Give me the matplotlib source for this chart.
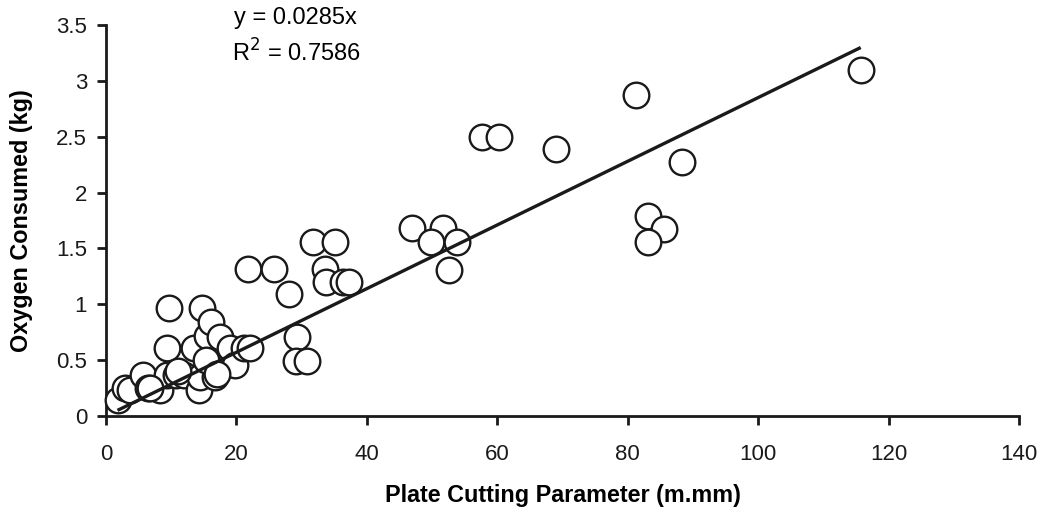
import matplotlib
matplotlib.use("Agg")
import matplotlib.pyplot as plt
import numpy as np

plt.rcParams['font.family'] = ['Liberation Sans', 'DejaVu Sans']

# Plate cutting parameter (m.mm) and oxygen consumed (kg)
x_vals = [1.9, 2.9, 3.7, 5.7, 6.4, 8.3, 9.3, 9.3, 9.7,
          10.8, 12.0, 13.5, 14.2, 14.4, 14.8, 15.5, 16.1, 16.7, 17.5,
          18.5, 19.0, 19.8, 21.2, 22.1, 21.8, 25.7, 28.1, 29.3, 29.2,
          30.8, 31.8, 35.1, 33.6, 33.7, 36.4, 37.3, 46.9, 51.7, 49.9,
          53.9, 52.6, 57.6, 60.2, 69.0, 81.3, 88.3, 83.1, 85.6, 83.1,
          115.7, 6.8, 11.0, 15.3, 17.0]
y_vals = [0.14, 0.25, 0.23, 0.37, 0.25, 0.23, 0.37, 0.61, 0.97,
          0.37, 0.37, 0.61, 0.23, 0.35, 0.97, 0.72, 0.84, 0.35, 0.71,
          0.50, 0.61, 0.46, 0.61, 0.61, 1.32, 1.32, 1.09, 0.71, 0.49,
          0.49, 1.56, 1.56, 1.32, 1.20, 1.20, 1.20, 1.68, 1.68, 1.56,
          1.56, 1.31, 2.50, 2.50, 2.39, 2.87, 2.27, 1.79, 1.67, 1.56,
          3.10, 0.25, 0.40, 0.50, 0.38]

slope = 0.0285
r2 = 0.7586
fit_x = [2.0, 115.5]

xticks = [0, 20, 40, 60, 80, 100, 120, 140]
yticks = [0, 0.5, 1, 1.5, 2, 2.5, 3, 3.5]
ytick_labels = ['0', '0.5', '1', '1.5', '2', '2.5', '3', '3.5']

fig = plt.figure(figsize=(10.43, 5.12), dpi=100)
ax = fig.add_axes([0.1016, 0.1875, 0.8754, 0.7637])

ax.scatter(x_vals, y_vals, s=340, facecolor='white', edgecolor='#1a1a1a',
           linewidths=1.7, zorder=3, clip_on=False)
fx = np.array(fit_x)
ax.plot(fx, slope * fx, color='#1a1a1a', linewidth=2.4, zorder=4)

ax.set_xlim(0, 140)
ax.set_ylim(0, 3.5)
ax.set_xticks(xticks)
ax.set_yticks(yticks)
ax.set_yticklabels(ytick_labels)
for s in ['top', 'right']:
    ax.spines[s].set_visible(False)
for s in ['left', 'bottom']:
    ax.spines[s].set_linewidth(2.0)
    ax.spines[s].set_color('#1a1a1a')
ax.tick_params(direction='out', length=6.5, width=2.0, labelsize=16, colors='#1a1a1a')
ax.tick_params(axis='x', pad=14)
ax.tick_params(axis='y', pad=7)

ax.set_xlabel('Plate Cutting Parameter (m.mm)', fontsize=16.8, fontweight='bold', labelpad=13)
ax.set_ylabel('Oxygen Consumed (kg)', fontsize=16.8, fontweight='bold', labelpad=17)

ax.text(0.208, 1.018, 'y = 0.0285x', transform=ax.transAxes, ha='center', va='center', fontsize=17)
ax.text(0.208, 0.928, r'R$^2$ = 0.7586', transform=ax.transAxes, ha='center', va='center', fontsize=17)

fig.savefig('out.png', dpi=100)
